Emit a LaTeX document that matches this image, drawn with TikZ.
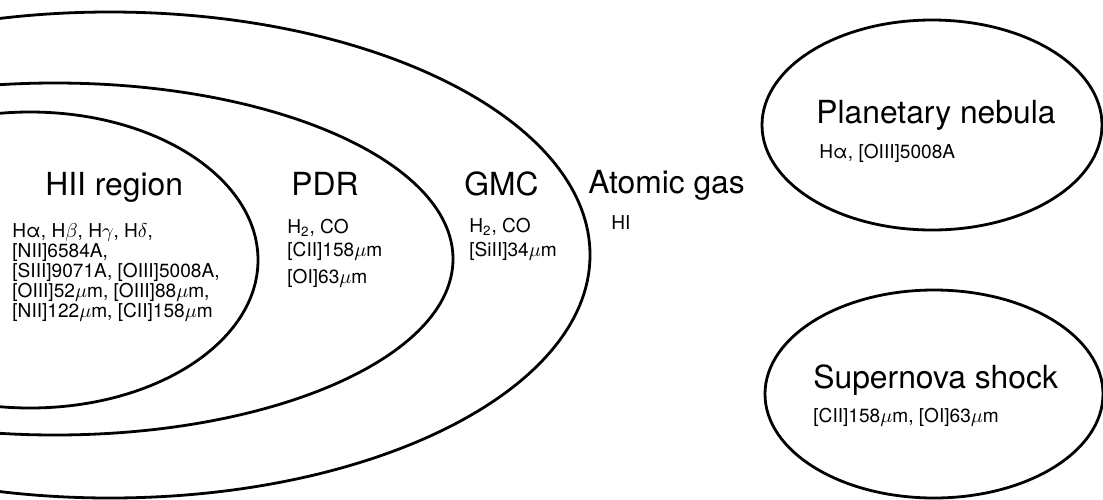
\documentclass[tikz,border=0pt]{standalone}
\usepackage{fontspec}
\setmainfont{TeX Gyre Heros}
\usetikzlibrary{shapes.geometric}

\begin{document}
\begin{tikzpicture}[x=0.5pt, y=-0.5pt,
  region/.style={ellipse, draw, line width=1.4pt, inner sep=0pt},
  title/.style={anchor=base west, inner sep=0pt, font=\fontsize{15.9}{18}\selectfont},
  lines/.style={anchor=base west, inner sep=0pt, align=left, font=\fontsize{9.55}{10}\selectfont}]
\useasboundingbox (0,0) rectangle (1103,499);

\node (gasE) at (110,255) [region, minimum width=480pt, minimum height=243pt] {};
\node (gmcE) at (55,259) [region, minimum width=398pt, minimum height=176pt] {};
\node (hiiE) at (30,260) [region, minimum width=228pt, minimum height=148pt] {};

% multi-line texts sit on their last baseline
\node (hii) at (45,195) [title] {HII region};
	\node (hiiL) at (12,317) [lines] {H\char"03B1, H$\beta$, H$\gamma$, H$\delta$,\\{}[NII]6584A,\\{}[SIII]9071A, [OIII]5008A,\\{}[OIII]52$\mu$m, [OIII]88$\mu$m,\\{}[NII]122$\mu$m, [CII]158$\mu$m};

\node (pdr) at (291,195) [title] {PDR};
	\node (pdrL) at (287,283.3) [lines] {H\textsubscript{2}, CO\\[1.7pt]{}[CII]158$\mu$m\\[3.3pt]{}[OI]63$\mu$m};

\node (gmc) at (464,195) [title] {GMC};
	\node (gmcL) at (469,256) [lines] {H\textsubscript{2}, CO\\[1.7pt]{}[SiII]34$\mu$m};

\node (atom) at (588,193.5) [title] {Atomic gas};
	\node (atomL) at (611,229.5) [lines] {HI};

\node (pnE) at (932,125) [region, minimum width=170pt, minimum height=105pt] {};
	\node (pn) at (816,123) [title] {Planetary nebula};
	\node (pnL) at (819,158) [lines] {H\char"03B1, [OIII]5008A};

\node (snE) at (934,394) [region, minimum width=169pt, minimum height=104pt] {};
	\node (sn) at (813,388) [title] {Supernova shock};
	\node (snL) at (813,422) [lines] {[CII]158$\mu$m, [OI]63$\mu$m};

\end{tikzpicture}
\end{document}
